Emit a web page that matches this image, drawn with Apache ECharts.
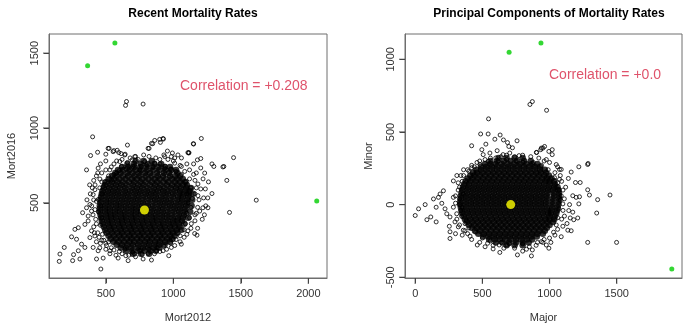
<!DOCTYPE html>
<html>
<head>
<meta charset="utf-8">
<script src="https://cdn.jsdelivr.net/npm/echarts@6/dist/echarts.min.js"></script>
<style>
html,body{margin:0;padding:0;background:#fff}
#main{width:692px;height:328px}
</style>
</head>
<body>
<div id="main"></div>
<script>
// ---- left panel: Mort2012 vs Mort2016 ----
// dense core, one row per y level: [y, [x...]]
const leftCoreRows = [
  [780,[720,780,840]],
  [760,[660,710,760,810,860,910]],
  [740,[620,665,710,755,800,845,890,935,975]],
  [720,[590,630,675,720,760,805,850,895,940,985,1020]],
  [700,[570,610,660,700,745,790,830,880,930,970,1030]],
  [680,[545,580,625,665,710,750,795,840,885,925,975,1015,1050]],
  [660,[520,560,600,645,690,730,770,815,860,900,945,990,1030,1070]],
  [640,[505,545,585,625,670,710,755,795,840,880,925,965,1010,1050,1090]],
  [620,[495,535,575,615,655,700,740,780,825,865,905,950,990,1030,1070,1100]],
  [600,[485,525,565,605,645,690,730,770,810,855,895,935,980,1020,1055,1095,1130]],
  [580,[475,515,555,595,640,680,720,760,805,845,885,925,965,1010,1050,1090,1120]],
  [560,[470,510,550,590,630,670,715,755,795,835,875,920,960,1000,1045,1075,1115,1145]],
  [540,[465,505,545,585,625,665,705,745,790,830,870,910,950,995,1035,1070,1110]],
  [520,[460,500,540,580,620,660,700,740,780,825,865,905,945,985,1030,1065,1105,1140]],
  [500,[460,500,535,575,615,655,695,735,775,815,860,900,940,980,1020,1060,1100]],
  [480,[455,495,535,575,610,650,690,730,770,810,850,895,935,975,1015,1055,1095,1135]],
  [460,[455,495,530,570,610,650,690,725,765,805,845,885,925,970,1010,1050,1090]],
  [440,[455,495,530,570,605,645,685,725,760,800,840,880,920,960,1005,1045,1085,1125]],
  [420,[460,500,535,570,610,645,685,720,760,800,835,875,915,955,995,1040,1080]],
  [400,[465,505,540,575,615,650,690,725,765,800,840,875,915,955,995,1035,1070,1110]],
  [380,[470,510,545,585,620,655,695,730,770,805,845,880,920,960,1000,1030,1065]],
  [360,[475,515,550,590,625,665,700,740,775,815,850,890,925,965,1000,1040,1080]],
  [340,[485,525,560,600,635,675,710,750,785,825,860,900,935,975,1010,1045]],
  [320,[495,535,570,610,645,685,720,760,795,835,870,910,945,985,1025,1060]],
  [300,[505,545,585,620,660,695,735,770,810,845,885,920,960,995,1030]],
  [280,[520,560,600,635,675,710,750,785,825,860,900,935,975,1010]],
  [260,[535,575,615,655,690,730,765,805,840,880,915,955,990]],
  [240,[555,595,635,675,710,750,790,825,865,900,940,975]],
  [220,[580,620,660,700,740,780,820,860,895,935]],
  [200,[610,650,690,735,775,815,855,895]],
  [180,[650,695,740,785,830,870]],
  [160,[700,760,820]]
];
const leftOuter = [
  [653,1177],[646,1151],[776,1160],[402,941],[387,816],[439,838],[500,825],[524,864],[554,842],[584,851],
  [613,829],[643,825],[660,886],[820,864],[847,895],[862,917],[904,904],[926,926],[956,846],[993,833],
  [1034,820],[1113,833],[1148,895],[1207,930],[1446,802],[603,776],[1150,893],[1116,835],[1178,787],[1203,796],
  [1286,760],[1300,743],[1374,743],[1203,733],[1232,699],[1396,650],[1182,626],[1203,593],[1237,593],[1286,562],
  [1182,548],[1224,533],[1255,533],[1614,518],[1195,445],[1219,467],[1256,467],[1416,436],[1214,390],[1133,361],
  [1158,295],[1175,284],[1108,313],[1367,740],[328,434],[160,158],[192,202],[155,109],[261,154],[254,114],
  [308,125],[296,180],[345,202],[320,224],[283,257],[246,273],[271,323],[296,334],[345,356],[369,379],
  [394,313],[382,268],[419,279],[406,202],[443,180],[431,125],[463,58],[480,131],[530,180],[591,131],
  [665,114],[648,147],[714,158],[776,125],[838,118],[813,162],[966,147],[751,180],[1059,224],[985,202],
  [924,180],[875,180],[357,467],[394,445],[369,412],[382,489],[357,720],[443,732],[517,864],[559,849],
  [596,836],[640,820],[694,787],[714,809],[838,897],[899,924],[924,930],[813,864],[936,809],[985,809],
  [1108,836],[456,659],[419,588],[480,610],[542,655],[579,699],[616,743],[530,720],[690,732],[764,743],
  [788,776],[862,765],[936,732],[1010,765],[1059,743],[1084,710],[406,555],[443,522],
  [420,620],[455,600],[470,560],[430,510],[465,480],[445,440],[470,400],[425,390],[460,350],[440,300],
  [475,290],[410,340],[485,250],[460,230],[505,215],[520,240],[540,200],[560,185],[600,175],[640,190],
  [700,170],[760,185],[820,190],[880,200],[930,210],[980,230],[1020,255],[1050,280],[1080,320],[1090,360],
  [1120,400],[1100,430],[1130,470],[1110,500],[1140,530],[1100,560],[1130,600],[1090,640],[1120,660],[1060,690],
  [1020,710],[980,725],[940,745],[900,760],[850,740],[800,755],[750,720],[700,745],[650,725],[600,715],
  [560,690],[520,680],[490,640],[470,700],[430,680],[500,780],[560,760],[660,770],[740,790],[900,790],
  [1000,780],[1060,800],[1150,760],[1170,700],[1160,650],[1170,430],[1160,380],[1080,270],[1000,255],
  [400,600],[385,560],[410,520],[395,480],[420,455],[405,420],[430,360],[415,300],[450,270],[470,250],
  [500,230],[430,240],[455,200],[500,190],[530,160],[575,150],[620,160],[670,150],[720,140],[770,155],
  [860,160],[900,175],[950,190],[1010,215],[1050,240],[1100,290],[1130,330],[1160,420],[1180,470],[1190,520],
  [1160,560],[1170,600],[1150,690],[1120,720],[1100,760],[1050,750],[1010,800],[960,790],[930,820],[870,800],
  [820,810],[780,820],[720,810],[680,800],[620,790],[580,780],[540,740],[500,720],[460,760],[440,700],
  [410,650],[470,640],[380,620],[360,520],[1180,330],[1230,420],[1260,640],[1220,660],[1240,480]
];
const leftGreen = [[365,1416],[567,1568],[2062,513]];
const leftMean = [[786,452]];
const leftXTicks = [500,1000,1500,2000];
const leftYTicks = [500,1000,1500];

// ---- right panel: Major vs Minor ----
const rightCoreRows = [
  [320,[620,680,740,800]],
  [300,[560,610,660,710,760,810,860]],
  [280,[520,560,600,645,690,735,780,825,870,910]],
  [260,[490,530,570,610,650,690,730,770,810,850,890,930]],
  [240,[455,490,530,570,610,650,690,730,770,810,850,890,930,965]],
  [220,[430,460,500,540,580,620,660,700,740,780,820,860,900,935,975]],
  [200,[410,440,480,520,560,600,640,680,720,760,800,840,880,920,960,995]],
  [180,[390,425,465,505,545,585,625,665,705,745,785,825,865,905,945,980,1015]],
  [160,[375,410,450,490,530,570,610,650,690,730,770,810,850,890,930,970,1000,1035]],
  [140,[365,400,440,480,520,560,600,640,680,720,760,800,840,880,920,960,1000,1040]],
  [120,[355,395,435,475,515,555,595,635,675,715,755,795,835,875,915,955,995,1035,1060]],
  [100,[350,390,430,470,510,550,590,630,670,710,750,790,830,870,910,950,990,1025,1065]],
  [80,[345,385,425,465,505,545,585,625,665,705,745,785,825,865,905,945,985,1030,1070]],
  [60,[340,380,420,460,500,540,580,620,660,700,740,780,820,860,900,940,980,1030,1070]],
  [40,[340,380,420,460,500,540,580,620,660,700,740,780,820,860,900,940,980,1025,1070]],
  [20,[335,375,415,455,495,535,575,615,655,695,735,775,815,855,895,935,975,1020,1065]],
  [0,[335,375,415,455,495,535,575,615,655,695,735,775,815,855,895,935,975,1020,1065]],
  [-20,[340,380,420,460,500,540,580,620,660,700,740,780,820,860,900,940,980,1020,1060]],
  [-40,[345,385,425,465,505,545,585,625,665,705,745,785,825,865,905,945,985,1015,1055]],
  [-60,[350,390,430,470,510,550,590,630,670,710,750,790,830,870,910,950,990,1010,1050]],
  [-80,[360,400,440,480,520,560,600,640,680,720,760,800,840,880,920,960,1000,1040]],
  [-100,[370,410,450,490,530,570,610,650,690,730,770,810,850,890,930,970,1000,1035]],
  [-120,[385,425,465,505,545,585,625,665,705,745,785,825,865,905,945,985,1025]],
  [-140,[400,440,480,520,560,600,640,680,720,760,800,840,880,920,960,1000]],
  [-160,[420,460,500,540,580,620,660,700,740,780,820,860,900,940,980]],
  [-180,[445,485,525,565,605,645,685,725,765,805,845,885,925,965]],
  [-200,[470,510,550,590,630,670,710,750,790,830,870,910,950]],
  [-220,[505,545,585,625,665,705,745,785,825,865,905]],
  [-240,[550,590,630,670,710,750,790,830,870]],
  [-260,[600,650,700,750,800,845]],
  [-280,[680,740,800]]
];
const rightOuter = [
  [854,689],[872,709],[978,649],[546,590],[487,486],[543,486],[420,405],[526,416],[593,450],[632,479],
  [657,445],[687,427],[758,439],[496,378],[724,391],[904,359],[934,378],[963,400],[1020,378],[1020,344],
  [1287,283],[610,371],[556,355],[506,344],[704,355],[654,344],[773,337],[284,163],[420,254],[482,276],
  [543,298],[600,321],[902,359],[939,389],[697,400],[0,-75],[25,-29],[74,0],[87,-104],[116,-85],
  [136,39],[156,-18],[156,-119],[173,50],[185,73],[210,95],[198,9],[222,-29],[235,-63],[259,-85],
  [254,-149],[259,-187],[259,-233],[284,-18],[296,-119],[284,50],[321,-153],[309,-63],[408,-217],[462,-278],
  [580,-305],[625,-278],[630,-329],[684,-278],[761,-346],[828,-307],[865,-353],[872,-312],[539,-266],[358,-176],
  [371,-131],[333,0],[358,73],[1284,102],[1297,66],[1358,34],[1450,66],[1351,-58],[1284,-260],[1499,-260],
  [1173,61],[1198,50],[1223,54],[1218,5],[1149,0],[1143,-41],[1173,-52],[1154,-92],[1180,-104],[1210,-92],
  [1099,-149],[1136,-176],[1161,-180],[1087,-221],[1111,-79],[1087,61],[1099,5],[995,-300],[976,-278],[939,-255],
  [951,389],[995,366],[1284,276],[1218,260],[1161,224],[1193,152],[1228,152],[1074,242],[1087,242],[1050,276],
  [976,310],[1074,174],[1037,186],
  [330,120],[350,160],[345,-80],[340,-40],[330,40],[360,200],[400,230],[440,260],[480,300],[620,300],
  [680,310],[750,300],[800,290],[880,290],[940,270],[990,240],[1040,220],[1060,150],[1070,100],[1080,30],
  [1070,-30],[1060,-90],[1050,-140],[1030,-190],[1000,-230],[950,-260],[900,-280],[800,-270],[700,-270],[640,-260],
  [560,-250],[500,-230],[450,-190],[400,-160],[380,-110],[370,-180],[300,-200],[320,100],[300,10],
  [320,150],[300,60],[310,-100],[330,-140],[350,-210],[390,-200],[420,-240],[480,-260],[520,-290],[580,-280],
  [660,-300],[740,-300],[800,-320],[850,-290],[910,-260],[960,-240],[1010,-260],[1040,-210],[1060,-170],[1090,-100],
  [1100,-40],[1110,40],[1100,100],[1090,160],[1080,200],[1060,260],[1000,290],[960,300],[920,320],[860,330],
  [800,340],[740,330],[680,340],[640,330],[560,320],[520,310],[460,290],[420,270],[390,240],[360,240],
  [340,200],[310,200],[350,-20],[1130,-130],[1120,120],[1140,180]
];
const rightGreen = [[699,1048],[936,1112],[1910,-443]];
const rightMean = [[711,0]];
const rightXTicks = [0,500,1000,1500];
const rightYTicks = [-500,0,500,1000];

// axis ranges (R style: data range plus 4%)
const leftXRange = [79, 2138];
const leftYRange = [-2, 1628];
const rightXRange = [-76, 1986];
const rightYRange = [-505, 1174];

function expandRows(rows) {
  let out = []
  rows.forEach(r => r[1].forEach(x => out.push([x, r[0]])))
  return out
}

const FONT = 'Liberation Sans, Arial, sans-serif'
const BOX = '#6e6e6e'
const TICK = '#444'

function xAxisFor(idx, name, range, ticks) {
  return {
    type: 'value', gridIndex: idx, min: range[0], max: range[1], name: name,
    nameLocation: 'middle', nameGap: 34,
    nameTextStyle: { color: '#333', fontSize: 11, fontFamily: FONT },
    splitLine: { show: false },
    axisLine: { show: true, onZero: false, lineStyle: { color: BOX } },
    axisTick: { show: true, inside: false, length: 5, customValues: ticks, lineStyle: { color: TICK, width: 1 } },
    axisLabel: { customValues: ticks, formatter: v => String(v), color: '#333', fontSize: 11, fontFamily: FONT, margin: 10 }
  }
}
function yAxisFor(idx, name, range, ticks, gap) {
  return {
    type: 'value', gridIndex: idx, min: range[0], max: range[1], name: name,
    nameLocation: 'middle', nameGap: gap,
    nameTextStyle: { color: '#333', fontSize: 11, fontFamily: FONT },
    splitLine: { show: false },
    axisLine: { show: true, onZero: false, lineStyle: { color: BOX } },
    axisTick: { show: true, inside: false, length: 5, customValues: ticks, lineStyle: { color: TICK, width: 1 } },
    axisLabel: { customValues: ticks, formatter: v => String(v), color: '#333', fontSize: 11, fontFamily: FONT, rotate: 90, margin: 9 }
  }
}
function hollow(idx, data) {
  return {
    type: 'scatter', xAxisIndex: idx, yAxisIndex: idx, data: data,
    symbol: 'circle', symbolSize: 4, silent: true,
    itemStyle: { color: 'rgba(0,0,0,0)', borderColor: '#000', borderWidth: 1 }
  }
}
function solidCore(idx, data) {
  return {
    type: 'scatter', xAxisIndex: idx, yAxisIndex: idx, data: data,
    symbol: 'circle', symbolSize: 6.5, silent: true,
    itemStyle: { color: '#000', borderWidth: 0 }
  }
}
function filled(idx, data, color, size) {
  return {
    type: 'scatter', xAxisIndex: idx, yAxisIndex: idx, data: data,
    symbol: 'circle', symbolSize: size, silent: true, z: 5,
    itemStyle: { color: color, borderWidth: 0 }
  }
}
// outward tick marks, placed on the axis values
function xTicks(idx, ticks, yMin) {
  return {
    type: 'scatter', xAxisIndex: idx, yAxisIndex: idx, clip: false, silent: true, z: 10,
    data: ticks.map(v => [v, yMin]), symbol: 'rect', symbolSize: [1.2, 6], symbolOffset: [0, 3],
    itemStyle: { color: TICK }
  }
}
function yTicks(idx, ticks, xMin) {
  return {
    type: 'scatter', xAxisIndex: idx, yAxisIndex: idx, clip: false, silent: true, z: 10,
    data: ticks.map(v => [xMin, v]), symbol: 'rect', symbolSize: [6, 1.2], symbolOffset: [-3, 0],
    itemStyle: { color: TICK }
  }
}

let myChart = echarts.init(document.getElementById('main'))
let option = {
  animation: false,
  backgroundColor: '#fff',
  title: [
    { text: 'Recent Mortality Rates', left: 188, top: 3, textAlign: 'center',
      textStyle: { fontSize: 12, fontWeight: 'bold', color: '#000', fontFamily: FONT } },
    { text: 'Principal Components of Mortality Rates', left: 544, top: 3, textAlign: 'center',
      textStyle: { fontSize: 12, fontWeight: 'bold', color: '#000', fontFamily: FONT } }
  ],
  grid: [
    { left: 49, top: 34, width: 278, height: 247, show: true, borderColor: BOX, borderWidth: 1, backgroundColor: 'transparent' },
    { left: 405, top: 34, width: 277, height: 246, show: true, borderColor: BOX, borderWidth: 1, backgroundColor: 'transparent' }
  ],
  xAxis: [
    xAxisFor(0, 'Mort2012', leftXRange, leftXTicks),
    xAxisFor(1, 'Major', rightXRange, rightXTicks)
  ],
  yAxis: [
    yAxisFor(0, 'Mort2016', leftYRange, leftYTicks, 32),
    yAxisFor(1, 'Minor', rightYRange, rightYTicks, 31)
  ],
  graphic: [
    { type: 'text', left: 180, top: 79, style: { text: 'Correlation = +0.208', fill: '#DF536B', fontSize: 14, fontFamily: FONT } },
    { type: 'text', left: 549, top: 68, style: { text: 'Correlation = +0.0', fill: '#DF536B', fontSize: 14, fontFamily: FONT } }
  ],
  series: [
    solidCore(0, expandRows(leftCoreRows)),
    hollow(0, leftOuter),
    filled(0, leftGreen, '#00cd00', 5),
    filled(0, leftMean, '#ffff00', 9),
    xTicks(0, leftXTicks, leftYRange[0]),
    yTicks(0, leftYTicks, leftXRange[0]),
    solidCore(1, expandRows(rightCoreRows)),
    hollow(1, rightOuter),
    filled(1, rightGreen, '#00cd00', 5),
    filled(1, rightMean, '#ffff00', 9),
    xTicks(1, rightXTicks, rightYRange[0]),
    yTicks(1, rightYTicks, rightXRange[0])
  ]
}
option && myChart.setOption(option)
</script>
</body>
</html>
